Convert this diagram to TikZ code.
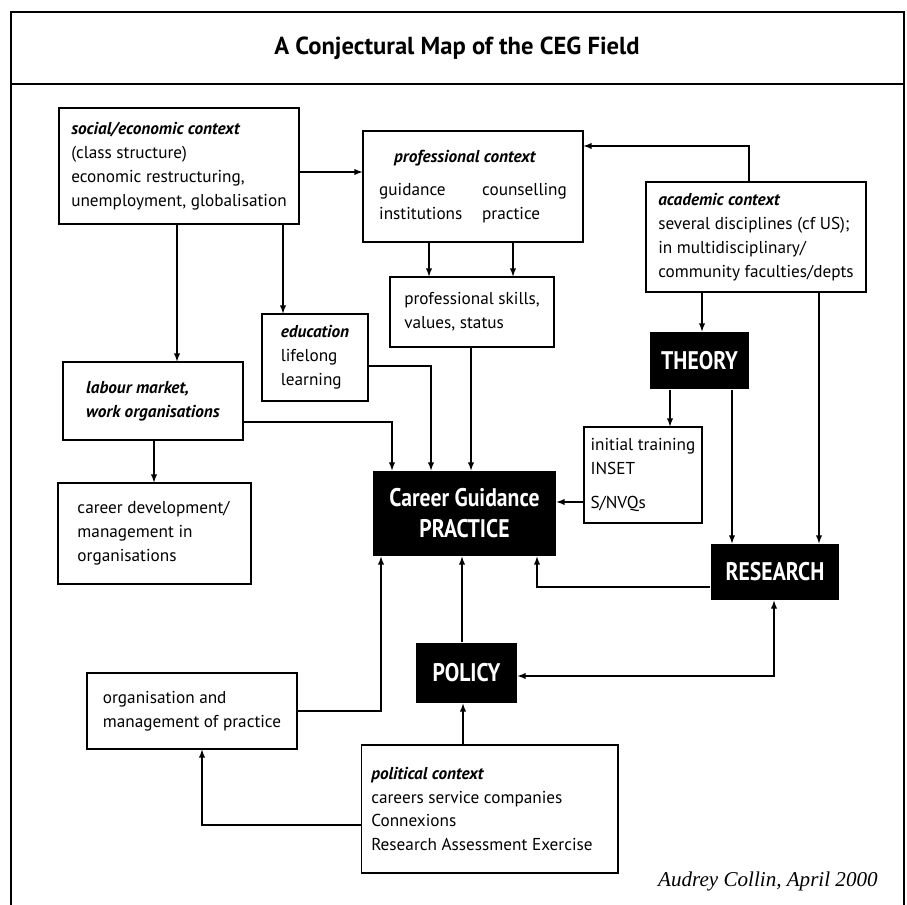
\documentclass[tikz,border=0pt]{standalone}
\usepackage{fontspec}
\setsansfont{PT Sans}
\newfontfamily\condfont{PT Sans}[FakeStretch=0.85]
\newfontfamily\signfont{Liberation Serif}
\usepackage{tikz}

\begin{document}
\begin{tikzpicture}[x=0.02cm,y=-0.02cm,line width=0.6pt,>=latex,
  ctx/.style={draw,inner sep=0pt,align=left,font=\sffamily\fontsize{9.8}{13.6}\selectfont},
  blk/.style={fill=black,text=white,inner sep=0pt,align=center,font=\condfont\bfseries\fontsize{14.5}{17.6}\selectfont}]
\useasboundingbox (0,0) rectangle (907,905);
% frame and title
\draw[line width=0.7pt] (11,905) -- (11,12) -- (904,12) -- (904,905);
\draw[line width=0.7pt] (11,84) -- (904,84);
\node[font=\sffamily\bfseries\fontsize{14}{16}\selectfont] (title) at (457,48) {A Conjectural Map of the CEG Field};

% boxes
\node[ctx,minimum width=4.8cm,minimum height=2.32cm] (soc) at (179,166) {\textbf{\textit{social/economic context}}\\(class structure)\\economic restructuring,\\unemployment, globalisation};
\node[ctx,minimum width=4.4cm,minimum height=2.22cm] (prof) at (473,186.5) {\hspace*{0.3cm}\textbf{\textit{professional context}}\\[5.7pt]\makebox[2.06cm][l]{guidance}counselling\\\makebox[2.06cm][l]{institutions}practice};
\node[ctx,minimum width=4.4cm,minimum height=2.2cm] (acad) at (756,237) {\textbf{\textit{academic context}}\\several disciplines (cf US);\\in multidisciplinary/\\community faculties/depts};
\node[ctx,minimum width=3.28cm,minimum height=1.4cm] (skills) at (472,312) {professional skills,\\values, status};
\node[ctx,minimum width=2.12cm,minimum height=1.74cm] (edu) at (315,357.5) {\textbf{\textit{education}}\\lifelong\\learning};
\node[ctx,minimum width=3.6cm,minimum height=1.56cm] (labour) at (153,401) {\textbf{\textit{labour market,}}\\\textbf{\textit{work organisations}}};
\node[blk,minimum width=3.66cm,minimum height=1.7cm] (cgp) at (464.5,513.5) {Career Guidance\\PRACTICE};
\node[ctx,minimum width=3.86cm,minimum height=2.02cm] (cdev) at (154.5,533.5) {career development/\\management in\\organisations\hspace*{1.1cm}};
\node[blk,minimum width=1.98cm,minimum height=1.14cm] (theory) at (699.5,360.5) {THEORY};
\node[ctx,minimum width=2.36cm,minimum height=1.92cm] (train) at (643,475) {initial training\\INSET\\[5.7pt]S/NVQs};
\node[blk,minimum width=2.56cm,minimum height=1.12cm] (research) at (775,572) {RESEARCH};
\node[blk,minimum width=2.02cm,minimum height=1.2cm] (policy) at (466.5,673) {POLICY};
\node[ctx,minimum width=5.14cm,minimum height=2.56cm] (polctx) at (489.5,809) {\textbf{\textit{political context}}\\careers service companies\\Connexions\\Research Assessment Exercise\hspace*{0.3cm}};
\node[ctx,minimum width=4.2cm,minimum height=1.52cm] (orgmgmt) at (192,711) {organisation and\\management of practice};
\node[font=\signfont\itshape\fontsize{12}{14}\selectfont,anchor=east] (sign) at (884,881) {Audrey Collin, April 2000};

% bend points
\coordinate (A) at (0,172);
\coordinate (B) at (749,146);
\coordinate (C1) at (429,0);
\coordinate (C2) at (513,0);
\coordinate (D) at (283,0);
\coordinate (E) at (177,0);
\coordinate (F) at (392,422);
\coordinate (G) at (431,366);
\coordinate (H) at (471,0);
\coordinate (I) at (154,0);
\coordinate (J) at (702,0);
\coordinate (K) at (670,0);
\coordinate (L) at (0,502);
\coordinate (M) at (732,0);
\coordinate (N) at (819,0);
\coordinate (O) at (537,587);
\coordinate (P) at (462,0);
\coordinate (Q) at (774,676);
\coordinate (R) at (463,0);
\coordinate (S) at (202,825);
\coordinate (T) at (381,711);

% connectors
\draw (soc.east |- A) -- (prof.west |- A) [->];
\draw (acad.north -| B) -- (B) -- (prof.east |- B) [->];
\draw (prof.south -| C1) -- (skills.north -| C1) [->];
\draw (prof.south -| C2) -- (skills.north -| C2) [->];
\draw (soc.south -| D) -- (edu.north -| D) [->];
\draw (soc.south -| E) -- (labour.north -| E) [->];
\draw (labour.east |- F) -- (F) -- (cgp.north -| F) [->];
\draw (edu.east |- G) -- (G) -- (cgp.north -| G) [->];
\draw (skills.south -| H) -- (cgp.north -| H) [->];
\draw (labour.south -| I) -- (cdev.north -| I) [->];
\draw (acad.south -| J) -- (theory.north -| J) [->];
\draw (theory.south -| K) -- (train.north -| K) [->];
\draw (train.west |- L) -- (cgp.east |- L) [->];
\draw (theory.south -| M) -- (research.north -| M) [->];
\draw (acad.south -| N) -- (research.north -| N) [->];
\draw (research.west |- O) -- (O) -- (cgp.south -| O) [->];
\draw (policy.north -| P) -- (cgp.south -| P) [->];
\draw (policy.east |- Q) -- (Q) -- (research.south -| Q) [<->];
\draw (polctx.north -| R) -- (policy.south -| R) [->];
\draw (polctx.west |- S) -- (S) -- (orgmgmt.south -| S) [->];
\draw (orgmgmt.east |- T) -- (T) -- (cgp.south -| T) [->];
\end{tikzpicture}
\end{document}
